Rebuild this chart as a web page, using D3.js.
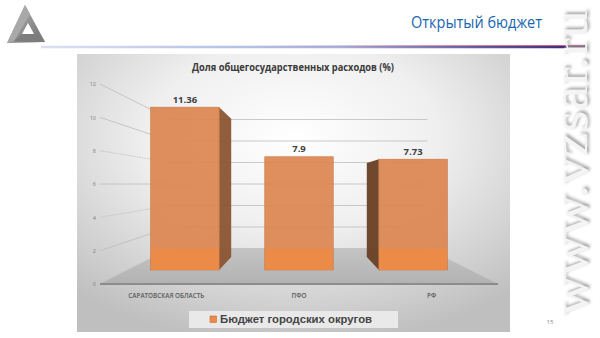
<!DOCTYPE html>
<html><head><meta charset="utf-8">
<script src="https://cdn.jsdelivr.net/npm/d3@7"></script>
<style>html,body{margin:0;padding:0;background:#fff;overflow:hidden}</style>
</head><body>
<svg id="c" width="600" height="338"></svg>
<script>
// ---- data ----
const categories = ["САРАТОВСКАЯ ОБЛАСТЬ", "ПФО", "РФ"];
const values = [11.36, 7.9, 7.73];
const valueLabels = ["11.36", "7.9", "7.73"];
const yTicks = [0, 2, 4, 6, 8, 10, 12];
const seriesName = "Бюджет городских округов";
const chartTitle = "Доля общегосударственных расходов (%)";
const pageTitle = "Открытый бюджет";
const watermark = "www.vzsar.ru";
const pageNumber = "15";

const svg = d3.select("#c");
const defs = svg.append("defs");

// ---- gradients ----
const hl = defs.append("linearGradient").attr("id","hl").attr("gradientUnits","userSpaceOnUse")
  .attr("x1",41).attr("x2",585).attr("y1",0).attr("y2",0);
hl.append("stop").attr("offset",0).attr("stop-color","#d9e1f2");
hl.append("stop").attr("offset",0.55).attr("stop-color","#a4b0de");
hl.append("stop").attr("offset",1).attr("stop-color","#2a2080");
const hr = defs.append("linearGradient").attr("id","hr").attr("gradientUnits","userSpaceOnUse")
  .attr("x1",250).attr("x2",585).attr("y1",0).attr("y2",0);
hr.append("stop").attr("offset",0).attr("stop-color","#d02030").attr("stop-opacity",0);
hr.append("stop").attr("offset",1).attr("stop-color","#c0182a").attr("stop-opacity",1);

const bg = defs.append("radialGradient").attr("id","bg").attr("cx","50%").attr("cy","30%").attr("r","75%");
bg.append("stop").attr("offset",0).attr("stop-color","#ffffff");
bg.append("stop").attr("offset",0.45).attr("stop-color","#efefef");
bg.append("stop").attr("offset",1).attr("stop-color","#bfbfbf");

const fl = defs.append("linearGradient").attr("id","fl").attr("x1",0).attr("x2",0).attr("y1",0).attr("y2",1);
fl.append("stop").attr("offset",0).attr("stop-color","#c4c4c4");
fl.append("stop").attr("offset",1).attr("stop-color","#b2b2b2");

const lg = defs.append("linearGradient").attr("id","logo").attr("x1",0).attr("x2",1).attr("y1",0).attr("y2",1);
lg.append("stop").attr("offset",0).attr("stop-color","#b8b8b8");
lg.append("stop").attr("offset",1).attr("stop-color","#6e6e6e");

const sh = defs.append("filter").attr("id","sh").attr("x","-20%").attr("y","-20%").attr("width","140%").attr("height","140%");
sh.append("feDropShadow").attr("dx",2).attr("dy",2).attr("stdDeviation",1.6).attr("flood-color","#9a9a9a").attr("flood-opacity",0.9);

// ---- header ----
const logo = svg.append("g");
logo.append("path").attr("d","M25,5 L45,42 L7,43 Z").attr("fill","url(#logo)");
logo.append("path").attr("d","M25,5 L30,14 L14,41 L7,43 Z").attr("fill","#a9a9a9");
logo.append("path").attr("d","M14,41 L45,42 L40,34 L22,34 Z").attr("fill","#7d7d7d");
logo.append("path").attr("d","M22,34 L28,23 L34,34 Z").attr("fill","#ffffff");

svg.append("line").attr("x1",41).attr("x2",585).attr("y1",47).attr("y2",47)
  .attr("stroke","url(#hl)").attr("stroke-width",2.4);
svg.append("line").attr("x1",250).attr("x2",585).attr("y1",45.8).attr("y2",45.8)
  .attr("stroke","url(#hr)").attr("stroke-width",0.9);

svg.append("text").attr("x",542).attr("y",28).attr("text-anchor","end")
  .attr("font-family","'Open Sans', sans-serif").attr("font-size",16)
  .attr("fill","#1a66b0").attr("textLength",131).attr("lengthAdjust","spacingAndGlyphs")
  .text(pageTitle);

// watermark
svg.append("text").attr("transform","translate(587,316) rotate(-90)")
  .attr("font-family","'Liberation Serif', 'Times New Roman', serif").attr("font-size",50)
  .attr("textLength",306).attr("lengthAdjust","spacingAndGlyphs")
  .attr("fill","#f4f4f4").attr("filter","url(#sh)").text(watermark);

svg.append("text").attr("x",550).attr("y",324).attr("text-anchor","middle")
  .attr("font-family","'Open Sans', sans-serif").attr("font-size",6).attr("fill","#8a8a8a").text(pageNumber);

// ---- chart panel ----
svg.append("rect").attr("x",77).attr("y",54).attr("width",433).attr("height",278).attr("fill","url(#bg)");

svg.append("text").attr("x",293).attr("y",71).attr("text-anchor","middle")
  .attr("font-family","'Open Sans', sans-serif").attr("font-weight","bold").attr("font-size",10)
  .attr("fill","#3a3a3a").attr("textLength",202).attr("lengthAdjust","spacingAndGlyphs")
  .text(chartTitle);

// scales (front plane) + simple perspective projection
const x = d3.scaleBand().domain(categories).range([100, 498]).paddingInner(0.4).paddingOuter(0.2);
const y = d3.scaleLinear().domain([0, 12]).range([284, 84]);
const cx = 299, cy = y(6);
const sBack = 0.645, sBarF = 0.86, sBarB = 0.73;
const P = (X, Y, s) => [cx + (X - cx) * s, cy + (Y - cy) * s];
const line = d3.line();
const x0 = x.range()[0], x1 = x.range()[1];

const grid = svg.append("g").attr("stroke","#bdbdbd").attr("stroke-width",0.8).attr("fill","none");
yTicks.forEach(v => {
  grid.append("path").attr("d", line([P(x0, y(v), sBack), P(x1, y(v), sBack)]));
  grid.append("path").attr("d", line([P(x0, y(v), 1), P(x0, y(v), sBack)]))
    .attr("stroke-dasharray", (v === 4 || v === 8) ? "1.5,1" : null);
});

// floor
svg.append("path").attr("d", line([P(x0,y(0),1), P(x1,y(0),1), P(x1,y(0),sBack), P(x0,y(0),sBack)]) + "Z")
  .attr("fill","url(#fl)");
svg.append("path").attr("d", line([P(x0,y(0),1), P(x1,y(0),1)]))
  .attr("stroke","#8c8c8c").attr("stroke-width",2);

// y axis labels
const ax = svg.append("g").attr("transform","translate(96,0)")
  .call(d3.axisLeft(y).tickValues(yTicks).tickSize(0).tickPadding(0).tickFormat(d3.format("d")));
ax.select(".domain").remove();
ax.selectAll("text").attr("font-family","'Open Sans', sans-serif").attr("font-size",5.5).attr("fill","#7f7f7f");

// bars
const floorBackY = P(x0, y(0), sBack)[1];
const bars = svg.append("g");
categories.forEach((c, i) => {
  const v = values[i];
  const L = x(c), R = x(c) + x.bandwidth();
  const top = y(v), bot = y(0);
  if (R < cx) {
    bars.append("path").attr("d", line([P(R,top,sBarF), P(R,top,sBarB), P(R,bot,sBarB), P(R,bot,sBarF)]) + "Z")
      .attr("fill","#8a5532").attr("opacity",0.95);
  } else if (L > cx) {
    bars.append("path").attr("d", line([P(L,top,sBarF), P(L,top,sBarB), P(L,bot,sBarB), P(L,bot,sBarF)]) + "Z")
      .attr("fill","#6a4226").attr("opacity",0.97);
  }
  const a = P(L, top, sBarF), b = P(R, bot, sBarF);
  bars.append("rect").attr("x",a[0]).attr("y",a[1]).attr("width",b[0]-a[0]).attr("height",b[1]-a[1])
    .attr("fill","#dc8650").attr("fill-opacity",0.92).attr("stroke","#c97442").attr("stroke-width",0.6);
  bars.append("rect").attr("x",a[0]+0.3).attr("y",Math.max(a[1],floorBackY)).attr("width",b[0]-a[0]-0.6)
    .attr("height",b[1]-Math.max(a[1],floorBackY)).attr("fill","#f28b43").attr("opacity",0.75);
  const m = P(L + x.bandwidth()/2, top, sBarF);
  bars.append("text").attr("x",m[0]).attr("y",m[1]-4.5).attr("text-anchor","middle")
    .attr("font-family","'Open Sans', sans-serif").attr("font-weight","bold").attr("font-size",9.5)
    .attr("fill","#404040").text(valueLabels[i]);
  svg.append("text").attr("x", L + x.bandwidth()/2).attr("y", 298).attr("text-anchor","middle")
    .attr("font-family","'Open Sans', sans-serif").attr("font-weight","600").attr("font-size",6.3)
    .attr("fill","#595959").text(c);
});

// legend
svg.append("rect").attr("x",189).attr("y",311).attr("width",209).attr("height",17).attr("fill","#e9e9e9");
svg.append("rect").attr("x",210).attr("y",316).attr("width",6.5).attr("height",6.5)
  .attr("fill","#ee8a47").attr("stroke","#c46e38").attr("stroke-width",0.6);
svg.append("text").attr("x",220).attr("y",322.5)
  .attr("font-family","'Liberation Sans', Arial, sans-serif").attr("font-weight","bold").attr("font-size",10.5)
  .attr("fill","#444").attr("textLength",152).attr("lengthAdjust","spacingAndGlyphs").text(seriesName);
</script>
</body></html>
